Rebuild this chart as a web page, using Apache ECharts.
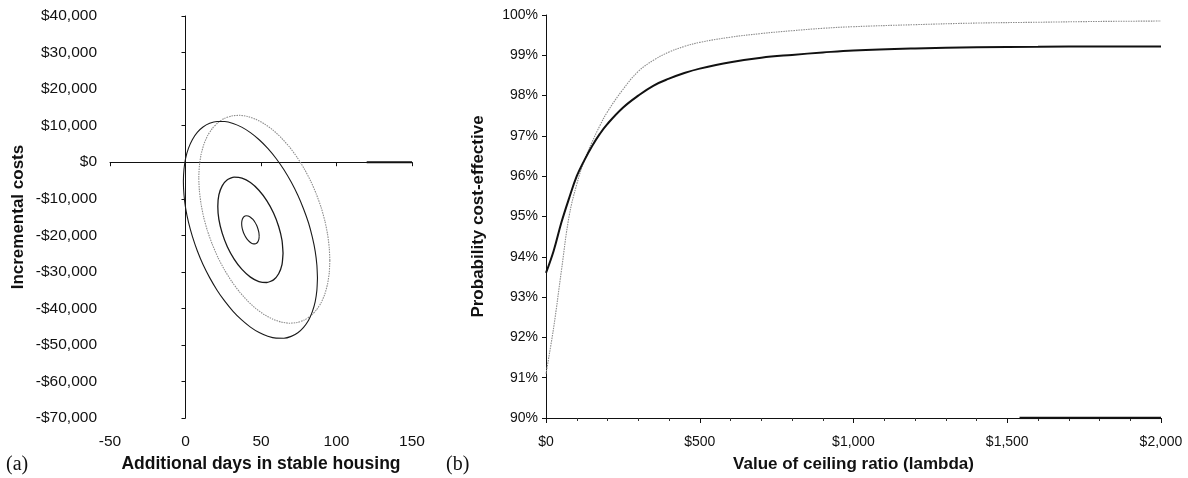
<!DOCTYPE html>
<html>
<head>
<meta charset="utf-8">
<script src="https://cdn.jsdelivr.net/npm/echarts@6/dist/echarts.min.js"></script>
<style>
html,body{margin:0;padding:0;background:#fff;}
#chart{width:1188px;height:478px;}
</style>
</head>
<body>
<div id="chart"></div>
<script>
// ---------- Panel (a): cost-effectiveness plane ----------
const xTicksA = [-50, 0, 50, 100, 150];
const yTicksA = [40000, 30000, 20000, 10000, 0, -10000, -20000, -30000, -40000, -50000, -60000, -70000];

// Black ellipses (outer, middle, inner): [days, cost]
const blackOuter = [
  [87.4,-31700],[87.0,-35060],[85.9,-38130],[84.0,-40870],[81.5,-43230],[78.2,-45170],
  [74.4,-46640],[70.0,-47640],[65.2,-48140],[60.0,-48130],[54.5,-47610],[48.8,-46600],
  [43.0,-45100],[37.2,-43150],[31.5,-40780],[26.0,-38020],[20.8,-34940],[16.0,-31570],
  [11.6,-27980],[7.8,-24220],[4.6,-20370],[2.0,-16480],[0.1,-12630],[-1.0,-8890],
  [-1.4,-5300],[-1.0,-1940],[0.1,1130],[2.0,3870],[4.6,6230],[7.8,8170],
  [11.6,9640],[16.0,10640],[20.8,11140],[26.0,11130],[31.5,10610],[37.2,9600],
  [43.0,8100],[48.8,6150],[54.5,3780],[60.0,1020],[65.2,-2060],[70.0,-5430],
  [74.4,-9030],[78.2,-12780],[81.5,-16630],[84.0,-20520],[85.9,-24370],[87.0,-28120],
  [87.4,-31700]
];
const blackMiddle = [
  [64.6,-24920],[63.9,-28040],[61.7,-30520],[58.3,-32180],[53.8,-32910],[48.6,-32650],
  [43.0,-31430],[37.4,-29330],[32.2,-26490],[27.7,-23110],[24.3,-19410],[22.1,-15650],
  [21.4,-12090],[22.1,-8960],[24.3,-6480],[27.7,-4820],[32.2,-4100],[37.4,-4350],
  [43.0,-5570],[48.6,-7670],[53.8,-10510],[58.3,-13890],[61.7,-17590],[63.9,-21350],[64.6,-24920]
];
const blackInner = [
  [48.8,-20220],[48.6,-21050],[48.0,-21720],[47.1,-22160],[45.9,-22350],[44.5,-22280],
  [43.0,-21960],[41.5,-21400],[40.1,-20640],[38.9,-19730],[38.0,-18740],[37.4,-17740],
  [37.2,-16780],[37.4,-15950],[38.0,-15290],[38.9,-14840],[40.1,-14650],[41.5,-14720],
  [43.0,-15040],[44.5,-15600],[45.9,-16360],[47.1,-17270],[48.0,-18260],[48.6,-19260],
  [48.8,-20220]
];
// Grey (dotted) ellipse
const greyOuter = [
  [95.6,-26900],[95.2,-30210],[94.1,-33270],[92.3,-36030],[89.8,-38440],[86.6,-40450],
  [82.9,-42050],[78.6,-43190],[73.9,-43850],[68.8,-44040],[63.4,-43730],[57.9,-42950],
  [52.2,-41700],[46.5,-40000],[41.0,-37890],[35.6,-35390],[30.5,-32550],[25.8,-29430],
  [21.5,-26070],[17.8,-22520],[14.6,-18860],[12.1,-15150],[10.3,-11440],[9.2,-7800],
  [8.8,-4300],[9.2,-990],[10.3,2070],[12.1,4830],[14.6,7240],[17.8,9250],
  [21.5,10850],[25.8,11990],[30.5,12650],[35.6,12840],[41.0,12530],[46.5,11750],
  [52.2,10500],[57.9,8800],[63.4,6690],[68.8,4190],[73.9,1350],[78.6,-1770],
  [82.9,-5140],[86.6,-8680],[89.8,-12340],[92.3,-16050],[94.1,-19760],[95.2,-23400],
  [95.6,-26900]
];
// short heavy stroke lying on the zero line at the right end
const zeroLineStroke = [[120, 0], [150, 0]];

// ---------- Panel (b): acceptability curves ----------
const lambdaValues = [0,25,50,75,100,125,150,175,200,250,300,350,400,450,500,600,700,800,900,1000,1200,1400,1600,1800,2000];
const probBlack = [93.6,94.15,94.85,95.45,96.0,96.4,96.75,97.05,97.3,97.7,98.0,98.25,98.42,98.56,98.67,98.83,98.94,99.01,99.07,99.12,99.17,99.2,99.21,99.22,99.22];
const probGrey  = [91.1,92.25,93.65,95.0,95.8,96.4,96.85,97.25,97.6,98.15,98.6,98.88,99.08,99.22,99.32,99.45,99.54,99.61,99.67,99.71,99.76,99.8,99.82,99.84,99.85];
const xTicksB = [0, 500, 1000, 1500, 2000];
const yTicksB = [90, 91, 92, 93, 94, 95, 96, 97, 98, 99, 100];
const baseStroke = [[1540, 90], [2000, 90]];

const SANS = 'Liberation Sans, Arial, Helvetica, sans-serif';
const SERIF = 'Liberation Serif, Times New Roman, serif';

function money(v) {
  const s = Math.abs(v).toLocaleString('en-US');
  return (v < 0 ? '-$' : '$') + s;
}

const chart = echarts.init(document.getElementById('chart'), null, {renderer: 'canvas'});

const ellipseSeries = (name, data, color, width, dash) => ({
  name, type: 'line', xAxisIndex: 0, yAxisIndex: 0, data,
  showSymbol: false, symbol: 'none', smooth: 0.2, silent: true,
  lineStyle: Object.assign({color, width}, dash ? {type: dash} : {})
});

const option = {
  animation: false,
  backgroundColor: '#ffffff',
  grid: [
    {left: 110, top: 16, width: 302, height: 406, containLabel: false},
    {left: 546, top: 15, width: 615, height: 405, containLabel: false}
  ],
  xAxis: [
    { // (a) labels at the bottom
      gridIndex: 0, type: 'value', position: 'bottom',
      min: xTicksA[0], max: xTicksA[xTicksA.length - 1], interval: 50,
      axisLine: {show: false, onZero: false},
      axisTick: {show: false},
      splitLine: {show: false},
      axisLabel: {show: true, margin: 16, color: '#111', fontFamily: SANS, fontSize: 15.5},
      name: 'Additional days in stable housing',
      nameLocation: 'middle', nameGap: 36,
      nameTextStyle: {fontFamily: SANS, fontWeight: 'bold', fontSize: 17.5, color: '#111'}
    },
    { // (a) axis line lying on cost = 0
      gridIndex: 0, type: 'value', position: 'top',
      min: xTicksA[0], max: xTicksA[xTicksA.length - 1], interval: 50,
      axisLine: {show: true, onZero: true, lineStyle: {color: '#111', width: 1}},
      axisTick: {show: true, inside: true, length: 4, lineStyle: {color: '#111'}},
      axisLabel: {show: false},
      splitLine: {show: false}
    },
    { // (b)
      gridIndex: 1, type: 'value', position: 'bottom',
      min: xTicksB[0], max: xTicksB[xTicksB.length - 1], interval: 500,
      axisLine: {show: true, onZero: false, lineStyle: {color: '#111', width: 1}},
      axisTick: {show: true, length: 5, lineStyle: {color: '#111'}},
      minorTick: {show: true, splitNumber: 5, length: 3, lineStyle: {color: '#333'}},
      splitLine: {show: false},
      axisLabel: {margin: 17, color: '#111', fontFamily: SANS, fontSize: 14,
        formatter: v => money(v)},
      name: 'Value of ceiling ratio (lambda)',
      nameLocation: 'middle', nameGap: 38,
      nameTextStyle: {fontFamily: SANS, fontWeight: 'bold', fontSize: 17, color: '#111'}
    }
  ],
  yAxis: [
    { // (a) labels at the left
      gridIndex: 0, type: 'value', position: 'left',
      min: yTicksA[yTicksA.length - 1], max: yTicksA[0], interval: 10000,
      axisLine: {show: false, onZero: false},
      axisTick: {show: false},
      splitLine: {show: false},
      axisLabel: {margin: 13, color: '#111', fontFamily: SANS, fontSize: 15.5, formatter: v => money(v)},
      name: 'Incremental costs',
      nameLocation: 'middle', nameGap: 83,
      nameTextStyle: {fontFamily: SANS, fontWeight: 'bold', fontSize: 17, color: '#111'}
    },
    { // (a) axis line lying on days = 0
      gridIndex: 0, type: 'value', position: 'right',
      min: yTicksA[yTicksA.length - 1], max: yTicksA[0], interval: 10000,
      axisLine: {show: true, onZero: true, lineStyle: {color: '#111', width: 1}},
      axisTick: {show: true, inside: true, length: 4, lineStyle: {color: '#111'}},
      axisLabel: {show: false},
      splitLine: {show: false}
    },
    { // (b)
      gridIndex: 1, type: 'value', position: 'left',
      min: yTicksB[0], max: yTicksB[yTicksB.length - 1], interval: 1,
      axisLine: {show: true, onZero: false, lineStyle: {color: '#111', width: 1}},
      axisTick: {show: true, length: 4, lineStyle: {color: '#111'}},
      splitLine: {show: false},
      axisLabel: {margin: 8, color: '#111', fontFamily: SANS, fontSize: 14, formatter: '{value}%'},
      name: 'Probability cost-effective',
      nameLocation: 'middle', nameGap: 59,
      nameTextStyle: {fontFamily: SANS, fontWeight: 'bold', fontSize: 17, color: '#111'}
    }
  ],
  graphic: [
    {type: 'text', left: 6, top: 455, style: {text: '(a)', font: '20px ' + SERIF, fill: '#111'}},
    {type: 'text', left: 446, top: 455, style: {text: '(b)', font: '20px ' + SERIF, fill: '#111'}}
  ],
  series: [
    ellipseSeries('grey ellipse', greyOuter, '#8c8c8c', 1.1, [1.5, 1]),
    ellipseSeries('black outer', blackOuter, '#1a1a1a', 1.1),
    ellipseSeries('black middle', blackMiddle, '#1a1a1a', 1.3),
    ellipseSeries('black inner', blackInner, '#1a1a1a', 1.1),
    {name: 'zero stroke', type: 'line', xAxisIndex: 0, yAxisIndex: 0, data: zeroLineStroke,
      showSymbol: false, symbol: 'none', silent: true,
      lineStyle: {color: '#111', width: 2}},
    {name: 'grey curve', type: 'line', xAxisIndex: 2, yAxisIndex: 2,
      data: lambdaValues.map((x, i) => [x, probGrey[i]]),
      showSymbol: false, symbol: 'none', smooth: 0.4, silent: true,
      lineStyle: {color: '#8c8c8c', width: 1.1, type: [1.5, 1]}},
    {name: 'black curve', type: 'line', xAxisIndex: 2, yAxisIndex: 2,
      data: lambdaValues.map((x, i) => [x, probBlack[i]]),
      showSymbol: false, symbol: 'none', smooth: 0.4, silent: true,
      lineStyle: {color: '#111', width: 2}},
    {name: 'base stroke', type: 'line', xAxisIndex: 2, yAxisIndex: 2, data: baseStroke,
      showSymbol: false, symbol: 'none', silent: true,
      lineStyle: {color: '#111', width: 2.5}}
  ]
};
chart.setOption(option);
</script>
</body>
</html>
